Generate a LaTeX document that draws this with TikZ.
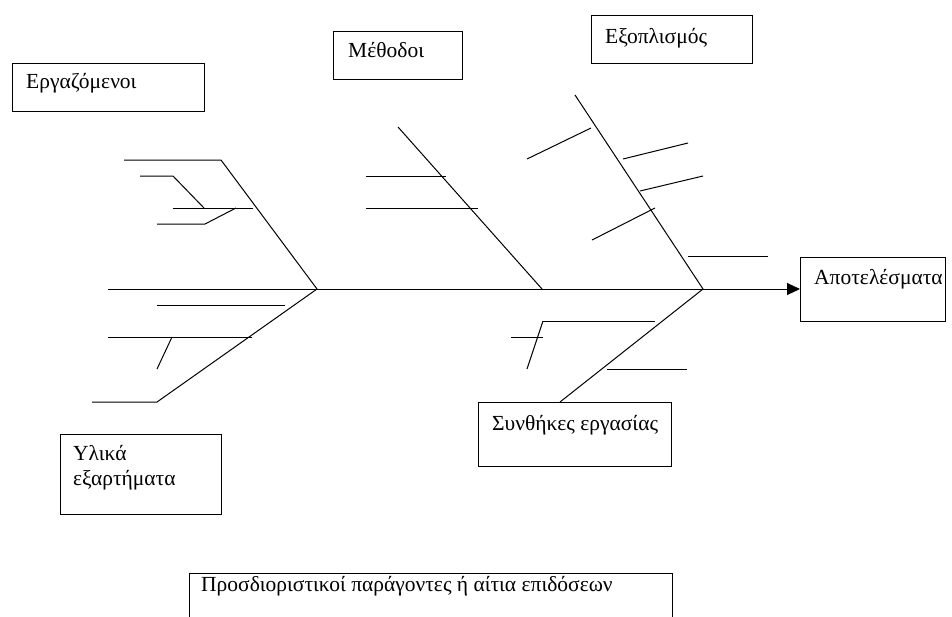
\documentclass[tikz,border=0pt]{standalone}
\usepackage{fontspec}
\setmainfont{Liberation Serif}
\usetikzlibrary{arrows.meta}
\begin{document}
\begin{tikzpicture}[x=1pt,y=-1pt,
  bone/.style={line width=1pt},
  box/.style={draw, line width=1pt, inner sep=0pt, outer sep=0pt, anchor=north west},
  lbl/.style={anchor=base west, inner sep=0pt, font=\fontsize{21.5}{25}\selectfont}]
\clip (0,0) rectangle (952,616);

% category and result boxes
\node[box, minimum width=192pt, minimum height=48pt] (erg)   at (12,63)  {};
\node[box, minimum width=129pt, minimum height=48pt] (meth)  at (333,31) {};
\node[box, minimum width=161pt, minimum height=48pt] (equip) at (591,15) {};
\node[box, minimum width=145pt, minimum height=64pt] (res)   at (800,257) {};
\node[box, minimum width=193pt, minimum height=64pt] (cond)  at (478,402) {};
\node[box, minimum width=161pt, minimum height=80pt] (mat)   at (60,434) {};
\node[box, minimum width=483pt, minimum height=60pt] (det)   at (189,573) {};

% box texts
\node[lbl] (ergT)   at ([shift={(14,25)}]erg.north west)   {Εργαζόμενοι};
\node[lbl] (methT)  at ([shift={(15,26)}]meth.north west)  {Μέθοδοι};
\node[lbl] (equipT) at ([shift={(14,28)}]equip.north west) {Εξοπλισμός};
\node[lbl] (resT)   at ([shift={(14,27)}]res.north west)   {Αποτελέσματα};
\node[lbl] (condT)  at ([shift={(14,28)}]cond.north west)  {Συνθήκες εργασίας};
\node[lbl] (matT1)  at ([shift={(13,26)}]mat.north west)   {Υλικά};
\node[lbl] (matT2)  at ([shift={(13,51)}]mat.north west)   {εξαρτήματα};
\node[lbl] (detT)   at ([shift={(12,18)}]det.north west)   {Προσδιοριστικοί παράγοντες ή αίτια επιδόσεων};

% spine and junctions
\coordinate (tail) at (108,289);
\coordinate (J1) at (317,289);
\coordinate (J2) at (542,289);
\coordinate (J3) at (703,289);
\draw[bone, -{Triangle[length=13pt,width=12pt]}] (tail) -- (res.west);

% workers bone
\draw[bone] (124,160) -- (221,160) -- (J1);
\draw[bone] (140,176) -- (173,176) -- (204,208);
\draw[bone] (173,208) -- (253,208);
\draw[bone] (157,224) -- (205,224) -- (236,208);

% materials bone
\draw[bone] (92,402) -- (157,402) -- (J1);
\draw[bone] (157,305) -- (285,305);
\draw[bone] (108,337) -- (252,337);
\draw[bone] (172,337) -- (157,369);

% methods bone
\draw[bone] (398,127) -- (J2);
\draw[bone] (366,176) -- (446,176);
\draw[bone] (366,208) -- (478,208);

% equipment bone
\draw[bone] (575,95) -- (J3);
\draw[bone] (527,159) -- (591,128);
\draw[bone] (623,159) -- (688,143);
\draw[bone] (640,191) -- (703,176);
\draw[bone] (592,240) -- (655,208);
\draw[bone] (688,256) -- (768,256);

% working conditions bone
\coordinate (condTop) at (560,402);
\draw[bone] (J3) -- (condTop);
\draw[bone] (543,321) -- (655,321);
\draw[bone] (543,321) -- (527,369);
\draw[bone] (511,337) -- (543,337);
\draw[bone] (607,369) -- (687,369);
\end{tikzpicture}
\end{document}
